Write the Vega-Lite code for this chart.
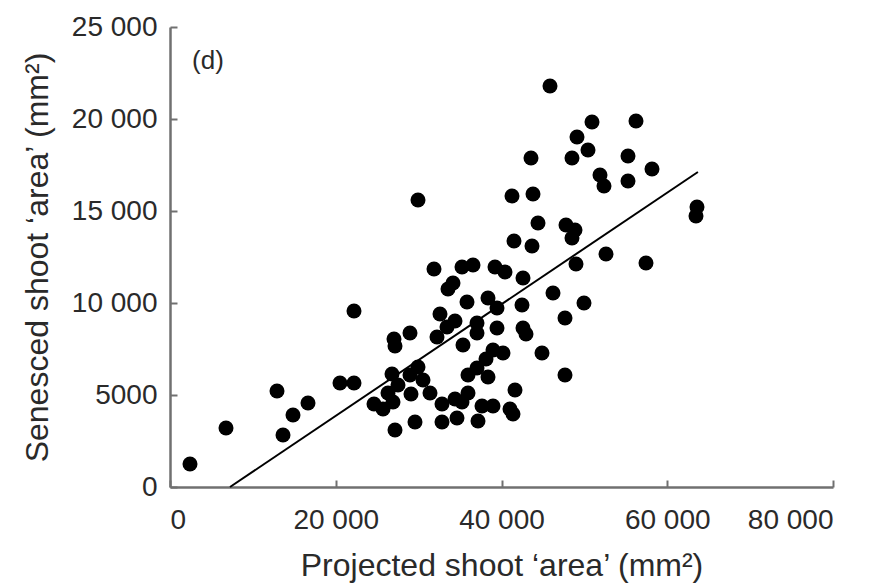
{
  "$schema": "https://vega.github.io/schema/vega-lite/v6.json",
  "width": 663,
  "height": 460,
  "autosize": {"type": "none"},
  "padding": {"left": 170, "top": 27, "right": 50, "bottom": 101},
  "background": "white",
  "config": {"view": {"stroke": null}, "font": "Liberation Sans"},
  "layer": [
    {
      "data": {"values": [
        {"projected": 2413, "senesced": 1250},
        {"projected": 6757, "senesced": 3207},
        {"projected": 12911, "senesced": 5218},
        {"projected": 14841, "senesced": 3913},
        {"projected": 13635, "senesced": 2826},
        {"projected": 16651, "senesced": 4565},
        {"projected": 22201, "senesced": 9566},
        {"projected": 20512, "senesced": 5652},
        {"projected": 22201, "senesced": 5652},
        {"projected": 29924, "senesced": 15598},
        {"projected": 31854, "senesced": 11848},
        {"projected": 35233, "senesced": 11957},
        {"projected": 36560, "senesced": 12066},
        {"projected": 34147, "senesced": 11087},
        {"projected": 33543, "senesced": 10761},
        {"projected": 35836, "senesced": 10055},
        {"projected": 38370, "senesced": 10272},
        {"projected": 39456, "senesced": 9729},
        {"projected": 32578, "senesced": 9403},
        {"projected": 33423, "senesced": 8696},
        {"projected": 34388, "senesced": 9022},
        {"projected": 37043, "senesced": 8913},
        {"projected": 37043, "senesced": 8370},
        {"projected": 39456, "senesced": 8642},
        {"projected": 28958, "senesced": 8370},
        {"projected": 27028, "senesced": 8044},
        {"projected": 27149, "senesced": 7663},
        {"projected": 32216, "senesced": 8153},
        {"projected": 35353, "senesced": 7718},
        {"projected": 38973, "senesced": 7446},
        {"projected": 40180, "senesced": 7283},
        {"projected": 38129, "senesced": 6957},
        {"projected": 37043, "senesced": 6468},
        {"projected": 35957, "senesced": 6087},
        {"projected": 38370, "senesced": 5979},
        {"projected": 29924, "senesced": 6522},
        {"projected": 28958, "senesced": 6087},
        {"projected": 26787, "senesced": 6142},
        {"projected": 30527, "senesced": 5815},
        {"projected": 27510, "senesced": 5544},
        {"projected": 26304, "senesced": 5109},
        {"projected": 31372, "senesced": 5109},
        {"projected": 29079, "senesced": 5055},
        {"projected": 24615, "senesced": 4511},
        {"projected": 25701, "senesced": 4239},
        {"projected": 26907, "senesced": 4620},
        {"projected": 32820, "senesced": 4511},
        {"projected": 34388, "senesced": 4783},
        {"projected": 35233, "senesced": 4620},
        {"projected": 35957, "senesced": 5109},
        {"projected": 34629, "senesced": 3750},
        {"projected": 32820, "senesced": 3533},
        {"projected": 29562, "senesced": 3533},
        {"projected": 27149, "senesced": 3098},
        {"projected": 37163, "senesced": 3587},
        {"projected": 37646, "senesced": 4402},
        {"projected": 38973, "senesced": 4402},
        {"projected": 41024, "senesced": 4239},
        {"projected": 41386, "senesced": 3968},
        {"projected": 41628, "senesced": 5272},
        {"projected": 47661, "senesced": 6087},
        {"projected": 44886, "senesced": 7283},
        {"projected": 47661, "senesced": 9185},
        {"projected": 42593, "senesced": 8642},
        {"projected": 42955, "senesced": 8316},
        {"projected": 42472, "senesced": 9892},
        {"projected": 46213, "senesced": 10544},
        {"projected": 49953, "senesced": 10000},
        {"projected": 42593, "senesced": 11359},
        {"projected": 40421, "senesced": 11685},
        {"projected": 39215, "senesced": 11957},
        {"projected": 48988, "senesced": 12120},
        {"projected": 52608, "senesced": 12664},
        {"projected": 57434, "senesced": 12174},
        {"projected": 41507, "senesced": 13370},
        {"projected": 43679, "senesced": 13098},
        {"projected": 44403, "senesced": 14348},
        {"projected": 47781, "senesced": 14240},
        {"projected": 48867, "senesced": 13968},
        {"projected": 48505, "senesced": 13533},
        {"projected": 41266, "senesced": 15816},
        {"projected": 43800, "senesced": 15925},
        {"projected": 43559, "senesced": 17881},
        {"projected": 45851, "senesced": 21794},
        {"projected": 50919, "senesced": 19838},
        {"projected": 56228, "senesced": 19892},
        {"projected": 49109, "senesced": 19023},
        {"projected": 50436, "senesced": 18316},
        {"projected": 48505, "senesced": 17881},
        {"projected": 55262, "senesced": 17990},
        {"projected": 58158, "senesced": 17283},
        {"projected": 51884, "senesced": 16957},
        {"projected": 52366, "senesced": 16359},
        {"projected": 55262, "senesced": 16631},
        {"projected": 63588, "senesced": 15218},
        {"projected": 63467, "senesced": 14729}
      ]},
      "mark": {"type": "circle", "size": 225, "color": "black", "opacity": 1},
      "encoding": {
        "x": {
          "field": "projected", "type": "quantitative",
          "scale": {"domain": [0, 80000], "nice": false},
          "axis": {
            "title": "Projected shoot ‘area’ (mm²)",
            "values": [0, 20000, 40000, 60000, 80000],
            "labelExpr": "datum.value >= 10000 ? replace(format(datum.value, ','), ',', ' ') : format(datum.value, 'd')",
            "grid": false,
            "domainColor": "#707070", "domainWidth": 2.5,
            "tickColor": "#707070", "tickWidth": 2, "tickSize": -7,
            "labelFontSize": 28, "labelColor": "#2a2a2a", "labelPadding": 26,
            "labelFont": "Liberation Sans",
            "titleFont": "Liberation Sans", "titleFontSize": 32, "titleFontWeight": "normal",
            "titleColor": "#2a2a2a", "titlePadding": 16
          }
        },
        "y": {
          "field": "senesced", "type": "quantitative",
          "scale": {"domain": [0, 25000], "nice": false},
          "axis": {
            "title": "Senesced shoot ‘area’ (mm²)",
            "values": [0, 5000, 10000, 15000, 20000, 25000],
            "labelExpr": "datum.value >= 10000 ? replace(format(datum.value, ','), ',', ' ') : format(datum.value, 'd')",
            "grid": false,
            "domainColor": "#707070", "domainWidth": 2.5,
            "tickColor": "#707070", "tickWidth": 2, "tickSize": -7,
            "labelFontSize": 28, "labelColor": "#2a2a2a", "labelPadding": 20,
            "labelFont": "Liberation Sans",
            "titleFont": "Liberation Sans", "titleFontSize": 32, "titleFontWeight": "normal",
            "titleColor": "#2a2a2a", "titlePadding": 17
          }
        }
      }
    },
    {
      "data": {"values": [
        {"projected": 7240, "senesced": 0},
        {"projected": 63700, "senesced": 17120}
      ]},
      "mark": {"type": "line", "color": "black", "strokeWidth": 2},
      "encoding": {
        "x": {"field": "projected", "type": "quantitative"},
        "y": {"field": "senesced", "type": "quantitative"}
      }
    },
    {
      "data": {"values": [{"projected": 4585, "senesced": 23150, "label": "(d)"}]},
      "mark": {"type": "text", "fontSize": 26, "font": "Liberation Sans", "color": "#2a2a2a", "align": "center", "baseline": "middle"},
      "encoding": {
        "x": {"field": "projected", "type": "quantitative"},
        "y": {"field": "senesced", "type": "quantitative"},
        "text": {"field": "label"}
      }
    }
  ]
}
